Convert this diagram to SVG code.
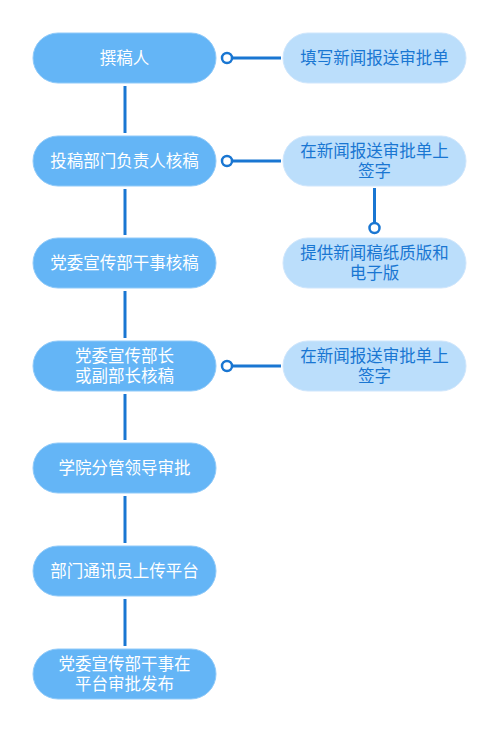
<svg xmlns="http://www.w3.org/2000/svg" width="500" height="732" viewBox="0 0 500 732">
<style>
.main rect{fill:#64B5F6;stroke:#90CAF9;stroke-width:1}
.side rect{fill:#BBDEFB;stroke:#CFE6FC;stroke-width:1}
text{font-family:"Liberation Sans","Noto Sans CJK SC",sans-serif;font-size:16.5px;text-anchor:middle}
.main text{fill:#FFFFFF}
.side text{fill:#1976D2}
.conn line{stroke:#1976D2;stroke-width:3}
.conn circle{fill:#FFFFFF;stroke:#1976D2;stroke-width:2.5}
</style>
<rect width="500" height="732" fill="#FFFFFF"/>
<g id="connectors" class="conn">
<line x1="125" y1="86" x2="125" y2="133"/>
<line x1="125" y1="189" x2="125" y2="235"/>
<line x1="125" y1="291" x2="125" y2="338"/>
<line x1="125" y1="394" x2="125" y2="440"/>
<line x1="125" y1="496" x2="125" y2="543"/>
<line x1="125" y1="599" x2="125" y2="646"/>
<line x1="232" y1="58" x2="281" y2="58"/>
<circle cx="227" cy="58" r="5"/>
<line x1="232" y1="161" x2="281" y2="161"/>
<circle cx="227" cy="161" r="5"/>
<line x1="232" y1="366" x2="281" y2="366"/>
<circle cx="227" cy="366" r="5"/>
<line x1="374.5" y1="188" x2="374.5" y2="223"/>
<circle cx="374.5" cy="228" r="5"/>
</g>
<g id="n1" class="main"><rect x="33" y="33" width="183" height="50" rx="25"/><text x="124.5" y="64">撰稿人</text></g>
<g id="n2" class="main"><rect x="33" y="136" width="183" height="50" rx="25"/><text x="124.5" y="167">投稿部门负责人核稿</text></g>
<g id="n3" class="main"><rect x="33" y="238" width="183" height="50" rx="25"/><text x="124.5" y="269">党委宣传部干事核稿</text></g>
<g id="n4" class="main"><rect x="33" y="341" width="183" height="50" rx="25"/><text x="124.5" y="362">党委宣传部长<tspan x="124.5" dy="20">或副部长核稿</tspan></text></g>
<g id="n5" class="main"><rect x="33" y="443" width="183" height="50" rx="25"/><text x="124.5" y="474">学院分管领导审批</text></g>
<g id="n6" class="main"><rect x="33" y="546" width="183" height="50" rx="25"/><text x="124.5" y="577">部门通讯员上传平台</text></g>
<g id="n7" class="main"><rect x="33" y="649" width="183" height="50" rx="25"/><text x="124.5" y="670">党委宣传部干事在<tspan x="124.5" dy="20">平台审批发布</tspan></text></g>
<g id="s1" class="side"><rect x="283" y="33" width="183" height="50" rx="25"/><text x="374.5" y="64">填写新闻报送审批单</text></g>
<g id="s2" class="side"><rect x="283" y="136" width="183" height="50" rx="25"/><text x="374.5" y="157">在新闻报送审批单上<tspan x="374.5" dy="20">签字</tspan></text></g>
<g id="s3" class="side"><rect x="283" y="238" width="183" height="50" rx="25"/><text x="374.5" y="259">提供新闻稿纸质版和<tspan x="374.5" dy="20">电子版</tspan></text></g>
<g id="s4" class="side"><rect x="283" y="341" width="183" height="50" rx="25"/><text x="374.5" y="362">在新闻报送审批单上<tspan x="374.5" dy="20">签字</tspan></text></g>
</svg>
